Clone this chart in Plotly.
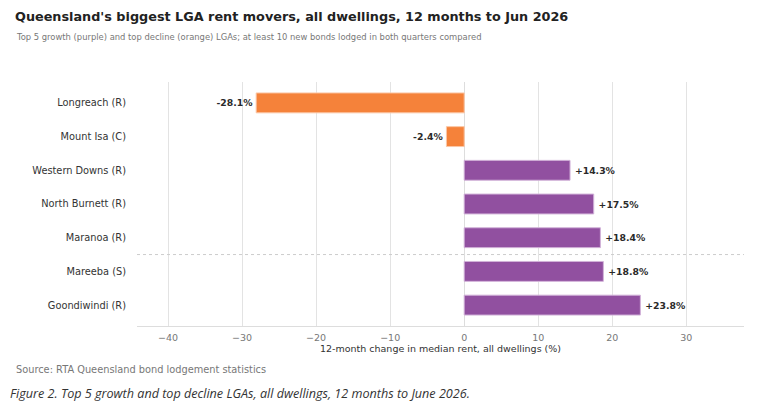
import plotly.graph_objects as go

# 12-month change in median rent, all dwellings (%)
lgas = [
    "Longreach (R)",
    "Mount Isa (C)",
    "Western Downs (R)",
    "North Burnett (R)",
    "Maranoa (R)",
    "Mareeba (S)",
    "Goondiwindi (R)",
]
change = [-28.1, -2.4, 14.3, 17.5, 18.4, 18.8, 23.8]
x_ticks = [-40, -30, -20, -10, 0, 10, 20, 30]

ORANGE = "#F5823A"
PURPLE = "#9150A0"

colors = [ORANGE if v < 0 else PURPLE for v in change]
edges = ["#FBC7A6" if v < 0 else "#D2B3D9" for v in change]
# thin space gives the positive labels a little more room from the bar end
labels = [f"{v:+.1f}%" if v < 0 else f"\u2009{v:+.1f}%" for v in change]

fig = go.Figure()
fig.add_trace(go.Bar(
    x=change,
    y=lgas,
    orientation="h",
    marker=dict(color=colors, line=dict(color=edges, width=1)),
    width=0.59,
    text=labels,
    textposition="outside",
    textfont=dict(family="DejaVu Sans", size=9.3, color="#2a2a2a", weight="bold"),
    cliponaxis=False,
    hoverinfo="skip",
))

# dotted separator between rows
fig.add_shape(type="line", xref="paper", yref="y", x0=0, x1=1, y0=4.5, y1=4.5,
              line=dict(color="#cccccc", width=1, dash="dot"))

# page body adds 8px margin, so the figure is 8px smaller than the window
fig.update_layout(
    width=754, height=407,
    margin=dict(l=129, r=18, t=74, b=89),
    paper_bgcolor="white", plot_bgcolor="white",
    showlegend=False,
    font=dict(family="DejaVu Sans", color="#333333"),
)

# header, source and caption (paper coords; plot area is 607 x 244 px)
fig.add_annotation(
    text="<b>Queensland's biggest LGA rent movers, all dwellings, 12 months to Jun 2026</b>",
    xref="paper", yref="paper", x=-0.2026, y=1.302, xanchor="left", yanchor="top",
    showarrow=False, borderpad=0,
    font=dict(family="DejaVu Sans", size=12.8, color="#222222"),
)
fig.add_annotation(
    text="Top 5 growth (purple) and top decline (orange) LGAs; at least 10 new bonds lodged in both quarters compared",
    xref="paper", yref="paper", x=-0.2026, y=1.184, xanchor="left", yanchor="middle",
    showarrow=False, font=dict(family="DejaVu Sans", size=8.4, color="#777777"),
)
fig.add_annotation(
    text="Source: RTA Queensland bond lodgement statistics",
    xref="paper", yref="paper", x=-0.2026, y=-0.180, xanchor="left", yanchor="middle",
    showarrow=False, font=dict(family="DejaVu Sans", size=9.8, color="#777777"),
)
fig.add_annotation(
    text="<i>Figure 2. Top 5 growth and top decline LGAs, all dwellings, 12 months to June 2026.</i>",
    xref="paper", yref="paper", x=-0.2125, y=-0.276, xanchor="left", yanchor="middle",
    showarrow=False, font=dict(family="Open Sans", size=12.6, color="#333333"),
)

fig.update_xaxes(
    range=[-44.2, 37.8],
    tickvals=x_ticks,
    ticktext=[str(t).replace("-", "\u2212") for t in x_ticks],
    tickfont=dict(size=9.5, color="#777777"),
    showgrid=True, gridcolor="#e3e3e3", gridwidth=1,
    zeroline=True, zerolinecolor="#dddddd", zerolinewidth=1,
    showline=True, linecolor="#dddddd", linewidth=1,
    ticks="", ticklabelstandoff=3, automargin=False,
    title=dict(text="12-month change in median rent, all dwellings (%)",
               font=dict(size=9.5, color="#333333"), standoff=2),
)
fig.update_yaxes(
    range=[6.62, -0.62],
    tickfont=dict(size=9.8, color="#333333"),
    showgrid=False, ticks="", ticklabelstandoff=10, automargin=False,
)

fig.write_html("out.html")
